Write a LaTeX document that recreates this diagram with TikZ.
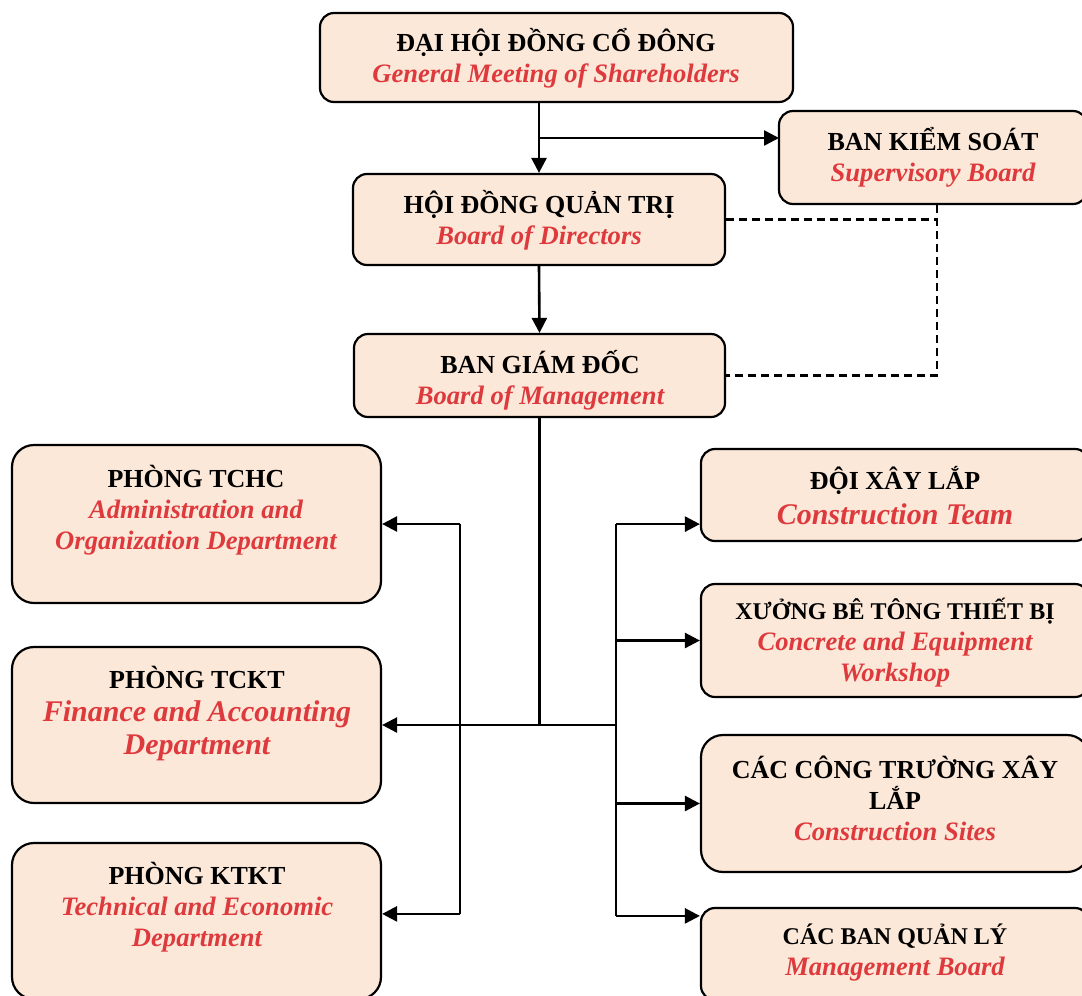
\documentclass[tikz,border=0pt]{standalone}
\usepackage{fontspec}
\setmainfont{Liberation Serif}
\usetikzlibrary{arrows.meta,calc}
\definecolor{boxfill}{RGB}{252,232,216}
\definecolor{engred}{RGB}{222,58,62}
\newcommand{\redtxt}[1]{{\color{engred}\bfseries\itshape\fontsize{13.3pt}{15.5pt}\selectfont #1}}
\newcommand{\redbig}[1]{{\color{engred}\bfseries\itshape\fontsize{15pt}{17pt}\selectfont #1}}

\begin{document}
\begin{tikzpicture}[x=0.5pt,y=-0.5pt,
	box/.style={draw,line width=1.1pt,fill=boxfill,rounded corners=7pt,inner sep=0pt},
	bigbox/.style={box,rounded corners=11pt},
	txt/.style={align=center,font=\fontsize{13pt}{15.5pt}\selectfont\bfseries},
	>={Triangle[length=7.5pt,width=7.5pt]}, line width=1.3pt]
	\useasboundingbox (0,0) rectangle (1082,996);
	% boxes
	\node[box,minimum width=236.5pt,minimum height=44.5pt] (gm) at (556.5,57.5) {};
	\node[box,minimum width=154pt,minimum height=46.5pt] (sb) at (933,157.5) {};
	\node[box,minimum width=186pt,minimum height=45.5pt] (bod) at (539,219.5) {};
	\node[box,minimum width=185.5pt,minimum height=41.5pt] (bom) at (539.5,375.5) {};
	\node[bigbox,minimum width=184.5pt,minimum height=79pt] (tchc) at (196.5,524) {};
	\node[bigbox,minimum width=184.5pt,minimum height=78pt] (tckt) at (196.5,725) {};
	\node[bigbox,minimum width=184.5pt,minimum height=78pt] (ktkt) at (196.5,921) {};
	\node[box,minimum width=194pt,minimum height=46pt] (doi) at (895,495) {};
	\node[box,minimum width=194pt,minimum height=56.5pt] (xuong) at (895,640.5) {};
	\node[bigbox,minimum width=194pt,minimum height=68.5pt] (ct) at (895,803.5) {};
	\node[box,minimum width=194pt,minimum height=46pt] (bql) at (895,954) {};
	% texts
	\node[txt] (gm-t) at (556,58) {ĐẠI HỘI ĐỒNG CỔ ĐÔNG\\\redtxt{General Meeting of Shareholders}};
	\node[txt] (sb-t) at (933,157) {BAN KIỂM SOÁT\\\redtxt{Supervisory Board}};
	\node[txt] (bod-t) at (539,220) {HỘI ĐỒNG QUẢN TRỊ\\\redtxt{Board of Directors}};
	\node[txt] (bom-t) at (540,380) {BAN GIÁM ĐỐC\\\redtxt{Board of Management}};
	\node[txt] (tchc-t) at (196,510) {PHÒNG TCHC\\\redtxt{Administration and}\\\redtxt{Organization Department}};
	\node[txt] (tckt-t) at (197,714) {PHÒNG TCKT\\[1pt]\redbig{Finance and Accounting}\\[1pt]\redbig{Department}};
	\node[txt] (ktkt-t) at (197,907) {PHÒNG KTKT\\\redtxt{Technical and Economic}\\\redtxt{Department}};
	\node[txt] (doi-t) at (895,496) {ĐỘI XÂY LẮP\\[2pt]\redbig{Construction Team}};
	\node[txt] (xuong-t) at (895,643) {{\fontsize{12pt}{14pt}\selectfont XƯỞNG BÊ TÔNG THIẾT BỊ}\\\redtxt{Concrete and Equipment}\\\redtxt{Workshop}};
	\node[txt] (ct-t) at (895,798) {CÁC CÔNG TRƯỜNG XÂY\\LẮP\\\redtxt{Construction Sites}};
	\node[txt] (bql-t) at (895,953) {{\fontsize{12pt}{14pt}\selectfont CÁC BAN QUẢN LÝ}\\\redtxt{Management Board}};
	% connectors
	\coordinate (sbin) at (779,138);
	\coordinate (sbout) at ([xshift=2pt]sb.south);
	\draw[->] (bod.north |- gm.south) -- (bod.north);
	\draw[->] (bod.north |- sbin) -- (sbin);
	\draw[->] (bod.south) -- (bom.north);
	\draw[line width=1.1pt,dash pattern=on 4pt off 2.5pt] (bod.east) -- (bod.east -| sbout);
	\draw[line width=1.1pt,dash pattern=on 4pt off 2.5pt] (sbout) -- (sbout |- bom.east) -- (bom.east);
	\coordinate (lbus) at (460,725);
	\coordinate (rbus) at (616,725);
	\coordinate (doiin) at ([yshift=9pt]doi.south west);
	\coordinate (bqlin) at ([yshift=-4.5pt]bql.north west);
	\coordinate (ktktin) at ([yshift=-36pt]ktkt.north east);
	\draw (bom.south) -- (bom.south |- rbus);
	\draw[->] (rbus) -- (tckt.east);
	\draw (lbus |- tchc.east) -- (lbus |- ktktin);
	\draw[->] (lbus |- tchc.east) -- (tchc.east);
	\draw[->] (lbus |- ktktin) -- (ktktin);
	\draw (rbus |- doiin) -- (rbus |- bqlin);
	\foreach \n in {doiin,xuong.west,ct.west,bqlin}
		\draw[->] (rbus |- \n) -- (\n);
\end{tikzpicture}
\end{document}
